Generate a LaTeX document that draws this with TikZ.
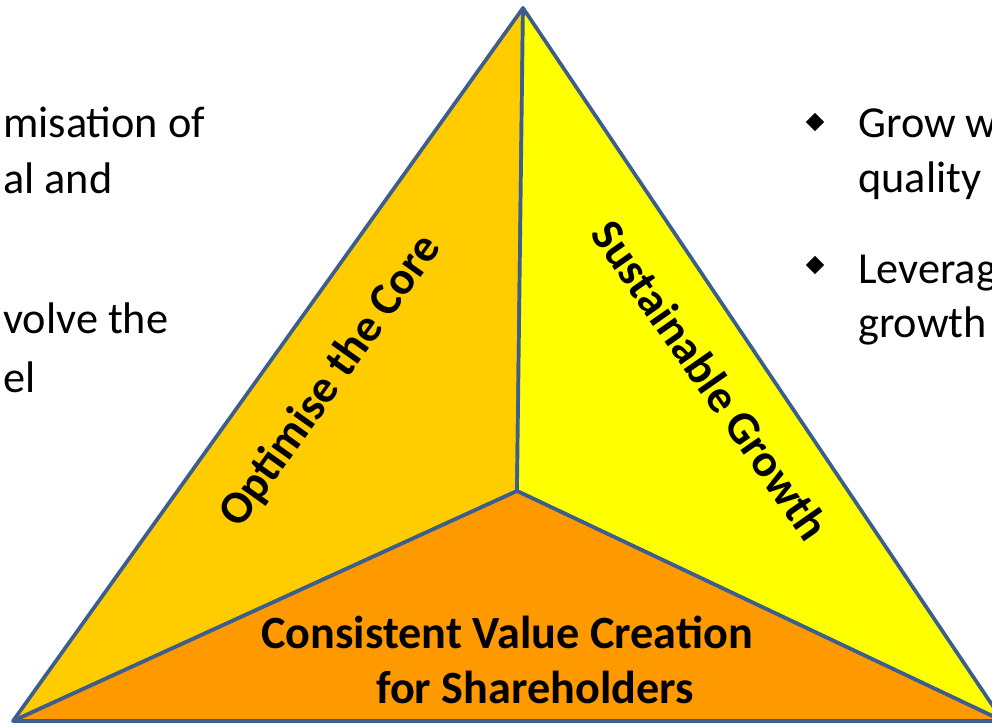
\documentclass[tikz,border=0pt]{standalone}
\usepackage{fontspec}
\setmainfont{Carlito}
\usetikzlibrary{shapes.geometric}
\definecolor{edgeblue}{HTML}{3B5E8C}
\definecolor{coreface}{HTML}{FFCC00}
\definecolor{growface}{HTML}{FFFF00}
\definecolor{valueface}{HTML}{FF9900}

\begin{document}
\begin{tikzpicture}[x=0.02cm,y=-0.02cm,
		face/.style={draw=edgeblue,line width=2.1pt,line join=round},
		bodytext/.style={anchor=base west,inner sep=0pt,font=\fontsize{25.2}{31}\selectfont},
		sidelabel/.style={inner sep=0pt,font=\fontsize{26.3}{31}\selectfont\bfseries},
		bulletmark/.style={diamond,fill=black,inner sep=0pt,minimum size=10.5pt}]
		\useasboundingbox (0,0) rectangle (992,724);
		\clip (0,0) rectangle (992,724);
		\coordinate (apex) at (523,8);
		\coordinate (baseL) at (13,721);
		\coordinate (baseR) at (1003,721);
		\coordinate (mid) at (517,491);
		\draw [face,fill=coreface] (apex) -- (baseL) -- (mid) -- cycle;
		\draw [face,fill=growface] (apex) -- (mid) -- (baseR) -- cycle;
		\draw [face,fill=valueface] (baseL) -- (mid) -- (baseR) -- cycle;
		\node [sidelabel,rotate=54.5] (core) at (331,381) {Optimise the Core};
		\node [sidelabel,rotate=-55] (growth) at (711,380) {Sustainable Growth};
		\node [sidelabel,anchor=base] (value1) at (507,648) {Consistent Value Creation};
		\node [sidelabel,anchor=base] (value2) at (535,703) {for Shareholders};
		\node [bodytext] (opt1) at (3,137) {misation of};
		\node [bodytext] (opt2) at (3,193) {al and};
		\node [bodytext] (evo1) at (3,333) {volve the};
		\node [bodytext] (evo2) at (3,392) {el};
		\node [bulletmark] (dot1) at (815,122) {};
		\node [bodytext] (grow1) at (858,137) {Grow w};
		\node [bodytext] (grow2) at (858,192) {quality};
		\node [bulletmark] (dot2) at (815,265) {};
		\node [bodytext] (lev1) at (858,283) {Leverag};
		\node [bodytext] (lev2) at (858,337) {growth};
	\end{tikzpicture}
\end{document}
